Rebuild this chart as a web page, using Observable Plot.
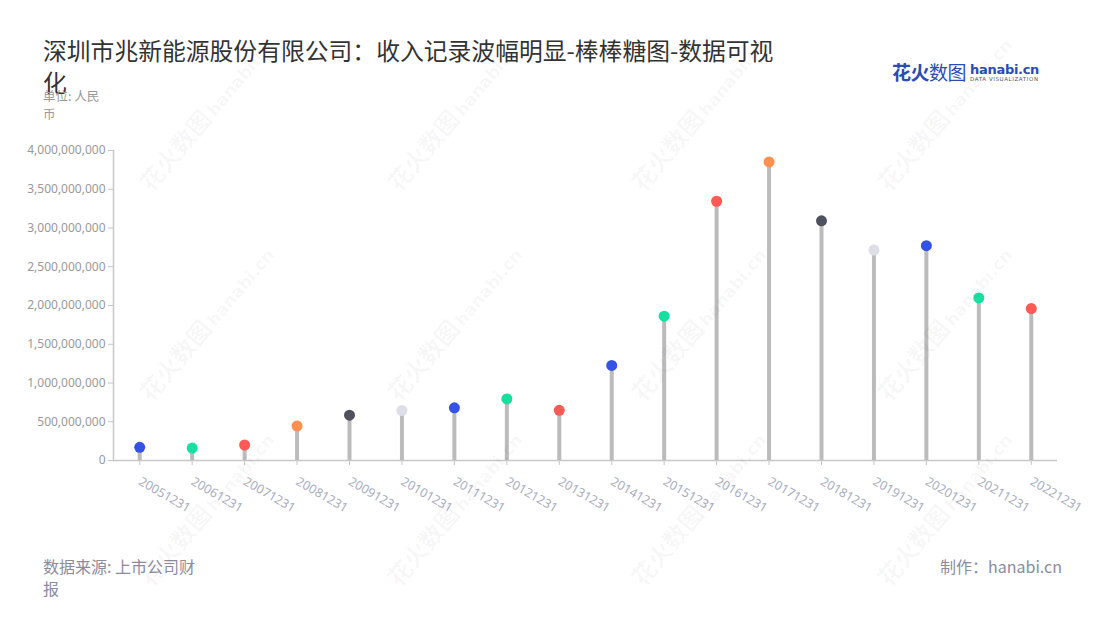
<!DOCTYPE html>
<html>
<head>
<meta charset="utf-8">
<script src="https://cdn.jsdelivr.net/npm/d3@7"></script>
<script src="https://cdn.jsdelivr.net/npm/@observablehq/plot@0.6"></script>
<style>
  body { margin: 0; background: #fff; font-family: "Noto Sans CJK SC", "Noto Sans", sans-serif; }
  #wrap { position: relative; width: 1100px; height: 620px; overflow: hidden; background: #fff; }
  #title { position: absolute; left: 43px; top: 34px; font-size: 23.8px; line-height: 32px; color: #333; }
  #unit { position: absolute; left: 43px; top: 87px; width: 68px; font-size: 12.5px; line-height: 18px; color: #999; }
  #logo { position: absolute; left: 892px; top: 60px; color: #2b4cb3; white-space: nowrap; }
  #logo .cn { font-size: 19px; font-weight: 700; letter-spacing: -0.5px; vertical-align: top; line-height: 24px; }
  #logo .cn .lt { font-weight: 400; }
  #logo .en { display: inline-block; margin-left: 4px; vertical-align: top; padding-top: 3px; }
  #logo .en b { display: block; font-family: "DejaVu Sans", sans-serif; font-size: 13px; line-height: 13px; font-weight: 700; letter-spacing: -0.3px; }
  #logo .en i { display: block; font-style: normal; font-family: "DejaVu Sans", sans-serif; font-size: 5.5px; line-height: 7px; letter-spacing: 0.6px; color: #556; }
  #chart { position: absolute; left: 0; top: 130px; }
  #src { position: absolute; left: 43px; top: 555px; width: 165px; font-size: 16px; line-height: 22px; color: #8b8b9e; }
  #made { position: absolute; right: 38px; top: 555px; font-size: 16px; line-height: 22px; color: #8b8b9e; }
  .wm { position: absolute; transform: rotate(-50deg); transform-origin: left top; color: rgba(0,0,0,0.04); font-weight: 700; font-size: 24px; white-space: nowrap; pointer-events: none; }
  .wm span { font-family: "DejaVu Sans", sans-serif; font-size: 17px; margin-left: 3px; }
</style>
</head>
<body>
<div id="wrap">
  <div id="title">深圳市兆新能源股份有限公司：收入记录波幅明显-棒棒糖图-数据可视<br>化</div>
  <div id="unit">单位: 人民币</div>
  <div id="logo"><span class="cn">花火<span class="lt">数图</span></span><span class="en"><b>hanabi.cn</b><i>DATA VISUALIZATION</i></span></div>
  <div id="chart"></div>
  <div id="src">数据来源: 上市公司财报</div>
  <div id="made">制作：hanabi.cn</div>
</div>
<script>
// ---- data ----
const dates = ["20051231","20061231","20071231","20081231","20091231","20101231","20111231","20121231","20131231","20141231","20151231","20161231","20171231","20181231","20191231","20201231","20211231","20221231"];
const revenue = [170e6, 160e6, 200e6, 445e6, 585e6, 645e6, 680e6, 795e6, 648e6, 1227e6, 1862e6, 3345e6, 3853e6, 3092e6, 2716e6, 2772e6, 2098e6, 1961e6];
const yTicks = [0, 500e6, 1000e6, 1500e6, 2000e6, 2500e6, 3000e6, 3500e6, 4000e6];
// ---- styles ----
const pointColors = ["#3552e6","#14e0a0","#ff5a55","#ff9050","#50515e","#dcdfe8","#3552e6","#14e0a0","#ff5a55","#3552e6","#14e0a0","#ff5a55","#ff9050","#50515e","#dcdfe8","#3552e6","#14e0a0","#ff5a55"];

const data = dates.map((d, i) => ({date: d, value: revenue[i]}));

const chart = Plot.plot({
  width: 1100,
  height: 400,
  marginLeft: 113,
  marginRight: 43,
  marginTop: 20,
  marginBottom: 70,
  style: {fontFamily: "'Noto Sans', 'Noto Sans CJK SC', sans-serif", background: "transparent", overflow: "visible"},
  x: {type: "band", domain: dates, padding: 0, round: false},
  y: {domain: [0, 4e9]},
  color: {type: "ordinal", domain: dates, range: pointColors},
  marks: [
    Plot.gridY(yTicks, {stroke: "#d9d9d9", strokeOpacity: 1, strokeDasharray: "5,4", x1: 118}),
    Plot.axisY(yTicks, {tickSize: 5, tickPadding: 3, stroke: "#c4c4c4", fill: "#999", fontSize: 12, tickFormat: d3.format(","), label: null}),
    Plot.axisX({tickSize: 5, tickPadding: 15, stroke: "#c4c4c4", fill: "#a9adbe", fontSize: 12.5, tickRotate: 30, textAnchor: "start", label: null}),
    Plot.frame({anchor: "left", stroke: "#c8c8c8", strokeWidth: 1.5}),
    Plot.ruleY([0], {stroke: "#c8c8c8", strokeWidth: 1.5}),
    Plot.ruleX(data, {x: "date", y1: 0, y2: "value", stroke: "#bbbbbb", strokeWidth: 4}),
    Plot.dot(data, {x: "date", y: "value", fill: "date", r: 5.5, stroke: "none"})
  ]
});
document.getElementById("chart").appendChild(chart);

// watermarks
const wrap = document.getElementById("wrap");
const wmPos = [[130,175],[378,175],[622,175],[868,175],[130,385],[378,385],[622,385],[868,385],[130,570],[378,570],[622,570],[868,570]];
wmPos.forEach(([x, y]) => {
  const el = document.createElement("div");
  el.className = "wm";
  el.style.left = x + "px";
  el.style.top = y + "px";
  el.innerHTML = "花火数图<span>hanabi.cn</span>";
  wrap.appendChild(el);
});
</script>
</body>
</html>
